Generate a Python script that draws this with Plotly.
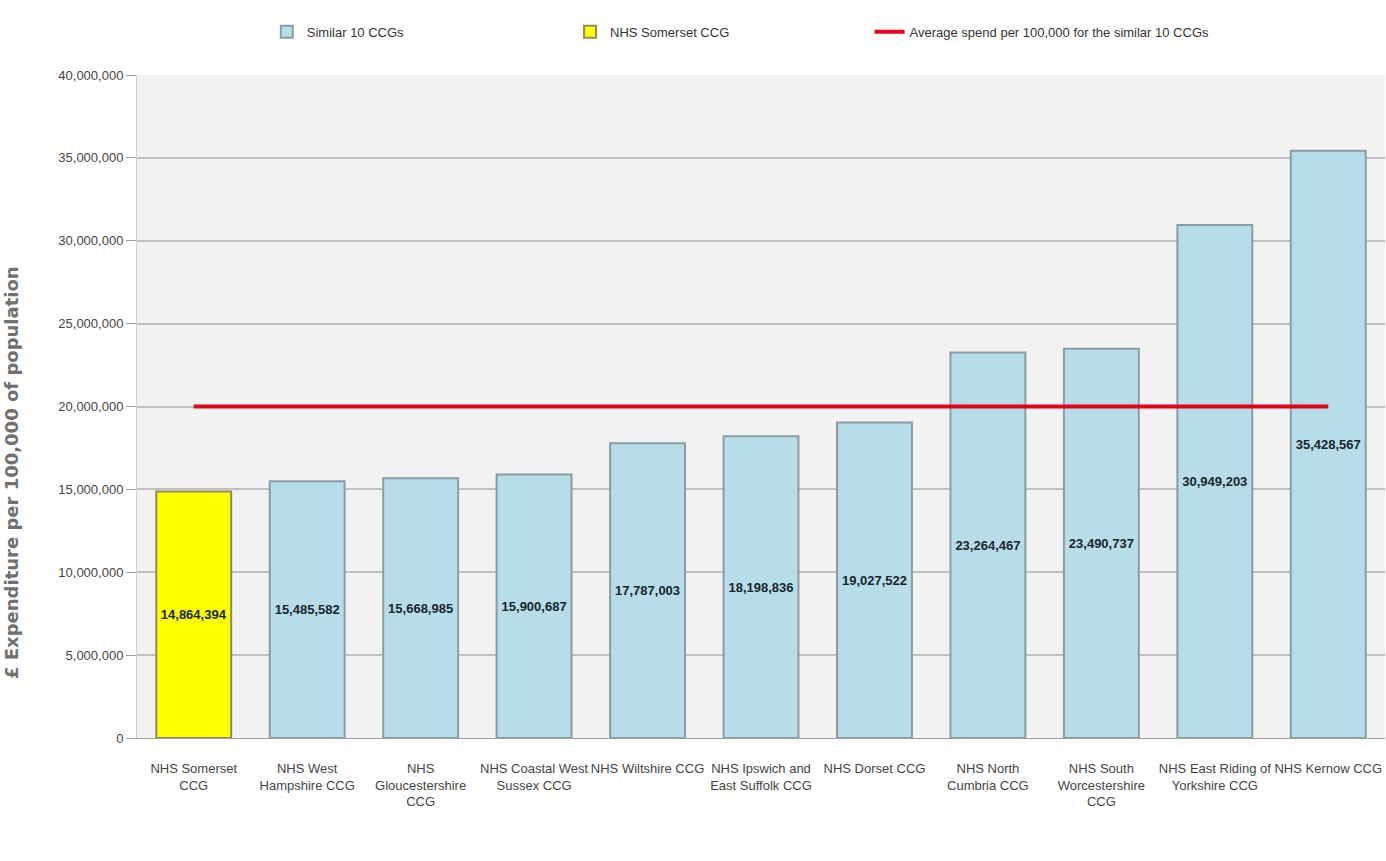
import plotly.graph_objects as go

categories = [
    "NHS Somerset<br>CCG",
    "NHS West<br>Hampshire CCG",
    "NHS<br>Gloucestershire<br>CCG",
    "NHS Coastal West<br>Sussex CCG",
    "NHS Wiltshire CCG",
    "NHS Ipswich and<br>East Suffolk CCG",
    "NHS Dorset CCG",
    "NHS North<br>Cumbria CCG",
    "NHS South<br>Worcestershire<br>CCG",
    "NHS East Riding of<br>Yorkshire CCG",
    "NHS Kernow CCG",
]
spend = [14864394, 15485582, 15668985, 15900687, 17787003, 18198836,
         19027522, 23264467, 23490737, 30949203, 35428567]
average_spend = [20000000] * len(categories)
y_ticks = [0, 5000000, 10000000, 15000000, 20000000, 25000000, 30000000, 35000000, 40000000]

FONT = "Liberation Sans, Arial, sans-serif"

somerset_x = categories[:1]
somerset_y = spend[:1]
similar_x = categories[1:]
similar_y = spend[1:]

label_font = dict(family=FONT, size=13, color="#17252d", weight="bold")

fig = go.Figure()
fig.add_trace(go.Bar(
    x=similar_x, y=similar_y, name="Similar 10 CCGs", legend="legend",
    marker=dict(color="#b7dde8", line=dict(color="#8c9ca3", width=2)),
    width=0.66,
    text=[f"{v:,}" for v in similar_y], textposition="inside",
    insidetextanchor="middle", textangle=0, constraintext="none",
    textfont=label_font,
))
fig.add_trace(go.Bar(
    x=somerset_x, y=somerset_y, name="NHS Somerset CCG", legend="legend2",
    marker=dict(color="#ffff00", line=dict(color="#8c8c60", width=2)),
    width=0.66,
    text=[f"{v:,}" for v in somerset_y], textposition="inside",
    insidetextanchor="middle", textangle=0, constraintext="none",
    textfont=label_font,
))
fig.add_trace(go.Scatter(
    x=categories, y=average_spend, mode="lines", legend="legend3",
    name="Average spend per 100,000 for the similar 10 CCGs",
    line=dict(color="#e3001b", width=4),
))

fig.add_annotation(
    text="£ Expenditure per 100,000 of population",
    xref="paper", yref="paper", x=-0.1, y=0.40,
    xanchor="center", yanchor="middle", textangle=-90, showarrow=False,
    font=dict(family="DejaVu Sans", size=18, color="#707070", weight="bold"),
)

legend_common = dict(orientation="h", y=1.065, xanchor="left", yanchor="middle",
                     font=dict(family=FONT, size=13, color="#333333"),
                     itemwidth=30, bgcolor="rgba(0,0,0,0)")

fig.update_layout(
    width=1386, height=861,
    margin=dict(l=137, r=1, t=75, b=123, autoexpand=False),
    paper_bgcolor="white", plot_bgcolor="#f2f2f2",
    barmode="overlay",
    font=dict(family=FONT, size=12, color="#333333"),
    showlegend=True,
    legend=dict(x=0.104, **legend_common),
    legend2=dict(x=0.347, **legend_common),
    legend3=dict(x=0.587, **legend_common),
    xaxis=dict(categoryorder="array", categoryarray=categories,
               tickfont=dict(family=FONT, size=13, color="#444444"),
               tickangle=0, ticklabelstandoff=18,
               showline=True, linecolor="#a0a0a0", linewidth=1,
               ticks="", range=[-0.5, len(categories) - 0.5]),
    yaxis=dict(range=[0, 40000000], tickvals=y_ticks, tickformat=",d",
               ticks="outside", ticklen=10, tickcolor="#a0a0a0",
               showgrid=True, gridcolor="#c0c0c0", gridwidth=2,
               showline=True, linecolor="#d0d0d0",
               zeroline=False,
               tickfont=dict(family=FONT, size=13, color="#444444")),
)

fig.write_html("out.html")
